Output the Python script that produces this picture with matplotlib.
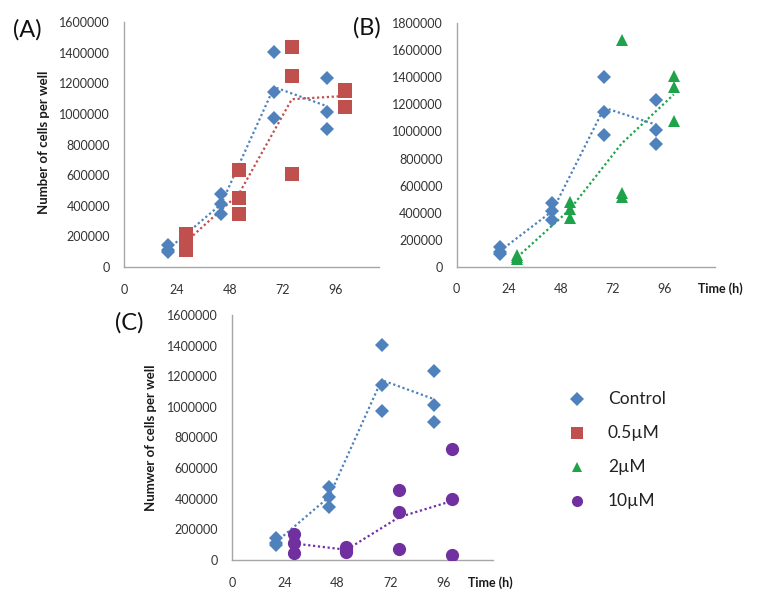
import matplotlib
matplotlib.use("Agg")
import matplotlib.pyplot as plt
import numpy as np

plt.rcParams['font.family'] = ['Lato', 'DejaVu Sans']

# ---------------- data ----------------
xticks = [0, 24, 48, 72, 96]

ctrl_t = [20, 44, 68, 92]
ctrl_v = [[145000, 110000, 95000],
          [474000, 410000, 347000],
          [1404000, 1146000, 976000],
          [1234000, 1011000, 904000]]

treat_t = [28, 52, 76, 100]
d05_v = [[218000, 164000, 109000],
         [633000, 448000, 349000],
         [1437000, 1245000, 605000],
         [1153000, 1048000, 1150000]]
d2_v = [[90000, 70000, 55000],
        [481000, 424000, 358000],
        [1677000, 543000, 513000],
        [1411000, 1332000, 1078000]]
d10_v = [[168000, 113000, 44000],
         [85000, 65000, 50000],
         [457000, 313000, 70000],
         [723000, 400000, 33000]]

legend_labels = ["Control", "0.5\u00b5M", "2\u00b5M", "10\u00b5M"]

C_BLUE = '#4F81BD'
C_RED = '#C0504D'
C_GREEN = '#1EA34A'
C_PURPLE = '#7030A0'

W, H = 758, 590
fig = plt.figure(figsize=(W / 100, H / 100), dpi=100)


def rect(l, t, r, b):
    return [l / W, 1 - b / H, (r - l) / W, (b - t) / H]


def style(ax, ymax, xmax):
    ax.set_xlim(0, xmax)
    ax.set_ylim(0, ymax)
    for s in ['top', 'right']:
        ax.spines[s].set_visible(False)
    for s in ['left', 'bottom']:
        ax.spines[s].set_color('#A6A6A6')
        ax.spines[s].set_linewidth(1.0)
    ax.set_xticks(xticks)
    ax.set_yticks(np.arange(0, ymax + 1, 200000))
    ax.set_yticklabels([str(int(v)) for v in np.arange(0, ymax + 1, 200000)])
    ax.tick_params(axis='both', length=0, labelsize=9, labelcolor='#333333')
    ax.tick_params(axis='y', pad=10)
    ax.tick_params(axis='x', pad=12)
    ax.patch.set_alpha(0)


def series(ax, t, vals, marker, color, ms, z=3):
    xs = np.repeat(t, [len(v) for v in vals])
    ys = np.concatenate([np.asarray(v, float) for v in vals])
    ax.plot(xs, ys, linestyle='none', marker=marker, color=color,
            markersize=ms, markeredgewidth=0, zorder=z)
    means = [np.mean(v) for v in vals]
    ax.plot(t, means, linestyle=(0, (1, 1.2)), color=color, lw=1.6, zorder=2)


MS = {'D': 7.5, 's': 10, '^': 8.5, 'o': 9.5}
LBL = dict(rotation=90, ha='center', va='center', fontsize=9.5,
           fontweight='bold', color='#1a1a1a')
TIME = dict(ha='left', va='center', fontsize=9, fontweight='bold', color='#1a1a1a')
PANEL = dict(ha='center', va='center', fontsize=17, color='#111111')

# Panel A
axA = fig.add_axes(rect(124, 22, 379, 267))
series(axA, ctrl_t, ctrl_v, 'D', C_BLUE, MS['D'])
series(axA, treat_t, d05_v, 's', C_RED, MS['s'])
style(axA, 1600000, 115.5)
fig.text(44 / W, 1 - 142 / H, "Number of cells per well", **LBL)
fig.text(27 / W, 1 - 30 / H, "(A)", **PANEL)

# Panel B
axB = fig.add_axes(rect(456.7, 23.3, 715, 266.7))
series(axB, ctrl_t, ctrl_v, 'D', C_BLUE, MS['D'])
series(axB, treat_t, d2_v, '^', C_GREEN, MS['^'])
style(axB, 1800000, 119)
fig.text(698 / W, 1 - 289 / H, "Time (h)", **TIME)
fig.text(367 / W, 1 - 28 / H, "(B)", **PANEL)

# Panel C
axC = fig.add_axes(rect(232, 315, 492.7, 560))
series(axC, ctrl_t, ctrl_v, 'D', C_BLUE, MS['D'])
series(axC, treat_t, d10_v, 'o', C_PURPLE, MS['o'])
style(axC, 1600000, 118.5)
fig.text(151 / W, 1 - 438 / H, "Numwer of cells per well", **LBL)
fig.text(468 / W, 1 - 583 / H, "Time (h)", **TIME)
fig.text(129 / W, 1 - 323 / H, "(C)", **PANEL)

# Legend
lax = fig.add_axes(rect(560, 380, 720, 520))
lax.set_xlim(0, 1)
lax.set_ylim(3.55, -0.55)
lax.axis('off')
lmarkers = [('D', C_BLUE, 7), ('s', C_RED, 9), ('^', C_GREEN, 7), ('o', C_PURPLE, 8)]
for i, (lab, (m, c, s)) in enumerate(zip(legend_labels, lmarkers)):
    lax.plot([0.106], [i], marker=m, color=c, markersize=s, markeredgewidth=0,
             linestyle='none')
    lax.text(0.30, i, lab, ha='left', va='center', fontsize=12.5, color='#222222')

fig.savefig("out.png", dpi=100)
